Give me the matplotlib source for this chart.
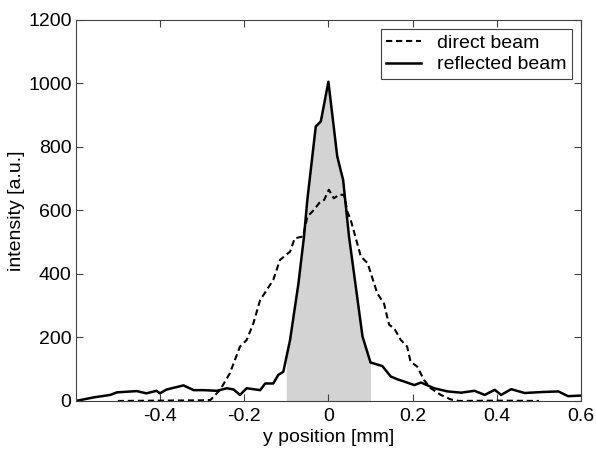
import matplotlib
matplotlib.use('Agg')
import matplotlib.pyplot as plt
import numpy as np

plt.rcParams.update({'font.family': ['Liberation Sans', 'DejaVu Sans']})
plt.rcParams.update({'font.size': 14})

# reflected beam (solid)
x_refl = [-0.6, -0.558, -0.518, -0.502, -0.479, -0.455, -0.432, -0.408, -0.400, -0.384,
          -0.344, -0.32, -0.297, -0.265, -0.241, -0.225, -0.21, -0.194, -0.162, -0.15,
          -0.131, -0.119, -0.107, -0.091, -0.071, -0.058, -0.05, -0.030, -0.018, 0.0,
          0.021, 0.029, 0.035, 0.049, 0.081, 0.1, 0.128, 0.148, 0.164, 0.18,
          0.204, 0.22, 0.251, 0.283, 0.315, 0.347, 0.371, 0.395, 0.41, 0.434,
          0.466, 0.506, 0.546, 0.569, 0.6]
y_refl = [0, 11, 19, 27, 29, 31, 24, 32, 24, 36,
          49, 34, 34, 32, 40, 36, 19, 40, 34, 55,
          55, 82, 92, 192, 371, 517, 633, 864, 880, 1005,
          770, 727, 696, 517, 203, 121, 110, 77, 68, 61,
          50, 58, 40, 30, 26, 32, 19, 35, 19, 37,
          25, 28, 30, 15, 17]

# direct beam (dashed)
x_dir = [-0.5, -0.40, -0.30, -0.28, -0.257, -0.234, -0.21, -0.194, -0.178, -0.162,
         -0.146, -0.131, -0.115, -0.091, -0.08, -0.06, -0.05, -0.034, -0.022, -0.01,
         0.001, 0.013, 0.025, 0.037, 0.045, 0.053, 0.077, 0.093, 0.116, 0.132,
         0.144, 0.156, 0.172, 0.187, 0.195, 0.211, 0.227, 0.243, 0.267, 0.29,
         0.31, 0.4, 0.5]
y_dir = [0, 1, 2, 3, 35, 87, 171, 192, 245, 318,
         350, 381, 444, 470, 512, 518, 580, 602, 623, 633,
         665, 638, 649, 649, 596, 570, 455, 434, 339, 307,
         240, 229, 192, 171, 124, 108, 66, 40, 19, 5,
         0, 1, 0]

shade_lo, shade_hi = -0.1, 0.1

x_refl = np.array(x_refl)
y_refl = np.array(y_refl)
mask = (x_refl > shade_lo) & (x_refl < shade_hi)
xs = np.concatenate([[shade_lo], x_refl[mask], [shade_hi]])
ys = np.interp(xs, x_refl, y_refl)

fig = plt.figure(figsize=(5.96, 4.5), dpi=100)
ax = fig.add_axes([0.127, 0.109, 0.848, 0.847])

ax.fill_between(xs, 0, ys, color='#d3d3d3', lw=0)
ax.plot(x_dir, y_dir, 'k--', lw=1.5, dashes=(3, 1.8), label='direct beam')
ax.plot(x_refl, y_refl, 'k-', lw=1.8, label='reflected beam')

ax.set_xlim([-0.6, 0.6])
ax.set_ylim([0, 1200])
ax.set_xticks([-0.4, -0.2, 0, 0.2, 0.4, 0.6])
ax.set_xticklabels(['-0.4', '-0.2', '0', '0.2', '0.4', '0.6'])
ax.set_yticks(np.arange(0, 1201, 200))
ax.tick_params(direction='in', top=True, right=True, length=5, color='#404040')
ax.tick_params(axis='y', pad=3)
ax.tick_params(axis='x', pad=5)
for s in ax.spines.values():
    s.set_color('#404040')
ax.set_xlabel('y position [mm]', labelpad=3)
ax.set_ylabel('intensity [a.u.]')
ax.yaxis.set_label_coords(-0.10, 0.5)
leg = ax.legend(loc='upper right', fancybox=False, edgecolor='#404040',
                framealpha=1, handlelength=1.8, borderaxespad=0.45,
                borderpad=0.3, labelspacing=0.2, handletextpad=0.8)
leg.get_frame().set_linewidth(0.8)

plt.savefig('out.png', dpi=100)
